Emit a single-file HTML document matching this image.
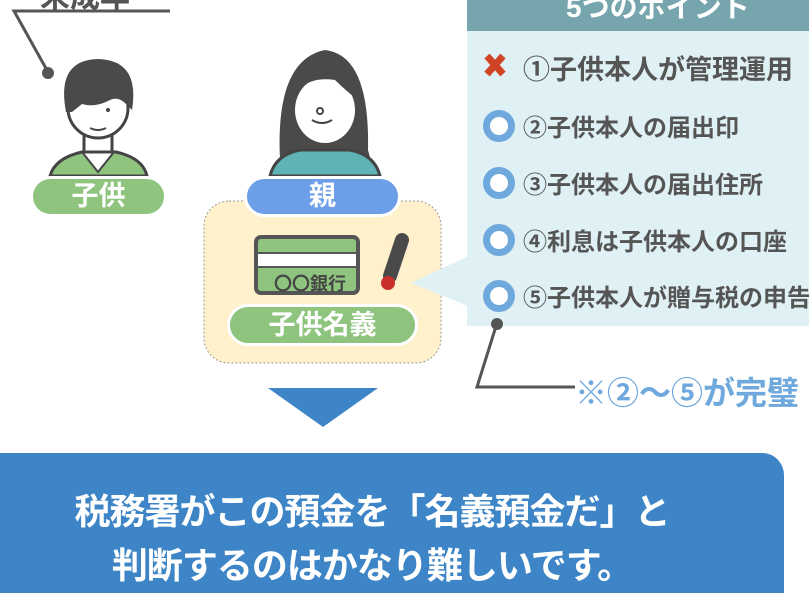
<!DOCTYPE html>
<html><head><meta charset="utf-8"><style>
body{margin:0;width:809px;height:593px;overflow:hidden;background:#fff;position:relative;font-family:"Liberation Sans","Noto Sans CJK JP",sans-serif;font-weight:bold}
.a{position:absolute}
.pill{position:absolute;border:3px solid #fff;border-radius:22px;color:#fff;text-align:center;font-size:27px;box-sizing:border-box}
.item{position:absolute;left:483px;font-size:24px;color:#555;white-space:nowrap;display:flex;align-items:center}
.o{display:inline-block;width:18px;height:18px;border:7px solid #6fa8dc;border-radius:50%;margin-right:8px;background:#fff}
</style></head><body>
<div class="a" style="left:40px;top:-28px;font-size:30px;color:#555">未成年</div>
<svg class="a" style="left:0;top:0" width="809" height="593">
<polyline points="170,11 14,11 48,72" fill="none" stroke="#555" stroke-width="3"/>
<circle cx="48" cy="73" r="6" fill="#555"/>
<!-- child -->
<path d="M50 176 Q55 158 82 152 L116 152 Q143 158 147 176Z" fill="#8ec47e" stroke="#444" stroke-width="3"/>
<path d="M82 152 L98 172 L114 152 Z" fill="#fff" stroke="#444" stroke-width="2"/>
<path d="M84 128 L84 152 L112 152 L112 128Z" fill="#fff" stroke="#444" stroke-width="3"/>
<ellipse cx="98" cy="108" rx="30" ry="30" fill="#fff" stroke="#444" stroke-width="3"/>
<path d="M66 112 Q56 60 98 59 Q140 60 132 110 L126 104 Q118 96 110 100 Q95 108 82 104 L72 112Z" fill="#4a4a4a"/>
<circle cx="108" cy="110" r="2" fill="#444"/>
<path d="M90 128 Q98 132 106 128" fill="none" stroke="#444" stroke-width="2"/>
<!-- parent -->
<path d="M280 160 Q275 60 325 50 Q370 55 368 150 L372 165 L280 165Z" fill="#4a4a4a"/>
<path d="M270 176 Q275 155 300 150 L350 150 Q375 155 380 176Z" fill="#5fb3b5" stroke="#444" stroke-width="3"/>
<ellipse cx="325" cy="110" rx="30" ry="33" fill="#fff"/>
<path d="M292 105 Q300 75 335 80 Q345 90 358 100 Q350 60 325 60 Q290 65 292 105Z" fill="#4a4a4a"/>
<circle cx="320" cy="111" r="3" fill="none" stroke="#444" stroke-width="2"/>
<path d="M312 120 Q322 126 332 120" fill="none" stroke="#444" stroke-width="2"/>
<!-- yellow box -->
<rect x="204" y="201" width="237" height="162" rx="25" fill="#fff1cc" stroke="#999" stroke-width="1" stroke-dasharray="2,2"/>
<!-- bankbook -->
<rect x="256" y="237" width="102" height="56" rx="5" fill="#8ec47e" stroke="#555" stroke-width="4"/>
<rect x="258" y="254" width="98" height="12" fill="#fff"/>
<line x1="258" y1="253" x2="356" y2="253" stroke="#555" stroke-width="2"/>
<line x1="258" y1="267" x2="356" y2="267" stroke="#555" stroke-width="2"/>
<text x="274" y="290" font-size="18" fill="#444" font-weight="bold">〇〇銀行</text>
<!-- stamp -->
<line x1="402" y1="240" x2="390" y2="276" stroke="#4a4a4a" stroke-width="14" stroke-linecap="round"/>
<circle cx="388" cy="283" r="7" fill="#c9302c"/>
<!-- callout -->
<polygon points="411,283 468,256 468,306" fill="#e0f1f5"/>
<rect x="467" y="31" width="342" height="295" fill="#e0f1f5"/>
<rect x="467" y="0" width="342" height="31" fill="#76a5ae"/>
<text x="566" y="17" font-size="28" fill="#fff" font-weight="bold">5つのポイント</text>
<path d="M487 56 L503 74 M503 56 L487 74" stroke="#d04425" stroke-width="7"/>
<polyline points="497,323 477,387 575,387" fill="none" stroke="#555" stroke-width="3"/>
<circle cx="497" cy="324" r="6" fill="#555"/>
<!-- arrow -->
<polygon points="268,388 378,388 323,427" fill="#3d85c6"/>
</svg>
<div class="pill" style="left:30px;top:176px;width:137px;height:41px;background:#8ec47e;line-height:35px">子供</div>
<div class="pill" style="left:244px;top:176px;width:157px;height:41px;background:#6d9ee8;line-height:35px">親</div>
<div class="pill" style="left:227px;top:304px;width:191px;height:42px;background:#8ec47e;line-height:36px">子供名義</div>
<div class="item" style="top:48px;left:523px;font-size:27px">①子供本人が管理運用</div>
<div class="item" style="top:108px"><span class="o"></span>②子供本人の届出印</div>
<div class="item" style="top:165px"><span class="o"></span>③子供本人の届出住所</div>
<div class="item" style="top:222px"><span class="o"></span>④利息は子供本人の口座</div>
<div class="item" style="top:278px"><span class="o"></span>⑤子供本人が贈与税の申告</div>
<div class="a" style="left:575px;top:368px;font-size:32px;color:#6fa8dc;white-space:nowrap">※②～⑤が完璧</div>
<div class="a" style="left:0;top:453px;width:784px;height:140px;background:#3d85c6;border-top-right-radius:22px"></div>
<div class="a" style="left:0;top:485px;width:744px;text-align:center;color:#fff;font-size:36px;line-height:54px;letter-spacing:-1px">税務署がこの預金を「名義預金だ」と<br>判断するのはかなり難しいです。</div>
</body></html>
